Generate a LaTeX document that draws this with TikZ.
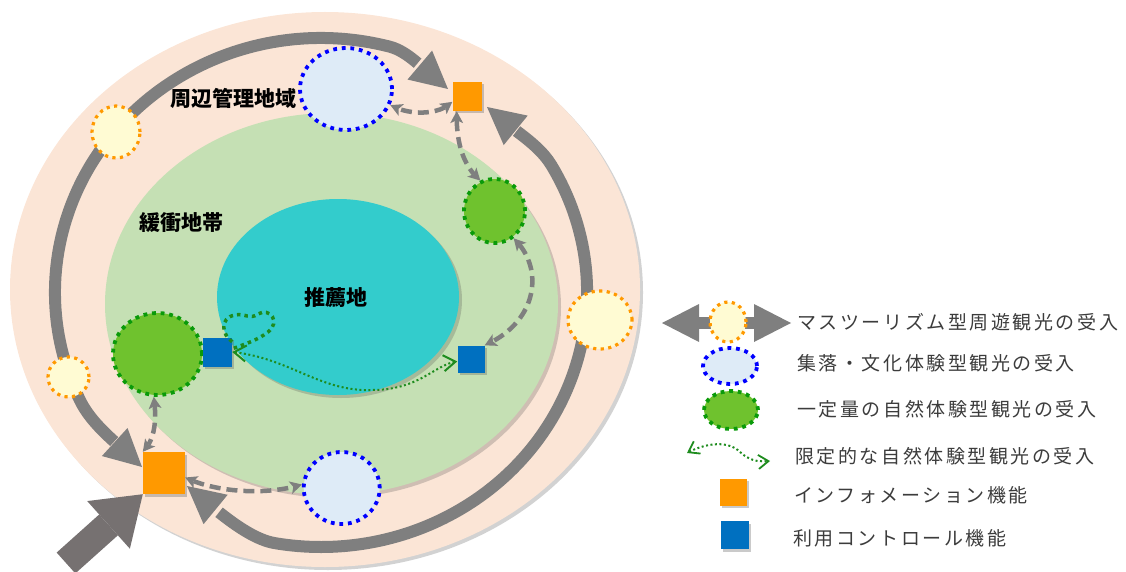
\documentclass[tikz,border=0pt]{standalone}
\usepackage{fontspec}
\newfontfamily\jpfont{Noto Sans CJK JP}
\newfontfamily\jplegend{Noto Sans CJK JP}[LetterSpace=13.5]
\usetikzlibrary{shapes.geometric,arrows.meta,shadows,bending}
\definecolor{peach}{HTML}{FBE5D6}
\definecolor{buffer}{HTML}{C5E0B4}
\definecolor{coreteal}{HTML}{33CCCC}
\definecolor{ringgray}{HTML}{7F7F7F}
\definecolor{biggray}{HTML}{767171}
\definecolor{infoorange}{HTML}{FF9900}
\definecolor{ctrlblue}{HTML}{0070C0}
\definecolor{villfill}{HTML}{DEEBF7}
\definecolor{villline}{HTML}{0000FF}
\definecolor{natfill}{HTML}{6FC22E}
\definecolor{natline}{HTML}{0A9A0A}
\definecolor{massfill}{HTML}{FFFBD3}
\definecolor{massline}{HTML}{FF9900}
\definecolor{limgreen}{HTML}{1E8C1E}
\definecolor{legtext}{HTML}{3C3C3C}
\begin{document}
\begin{tikzpicture}[x=1pt,y=-1pt,
  zoneshadow/.style={drop shadow={shadow xshift=3pt,shadow yshift=-3pt,opacity=0.25,fill=black!70}},
  zone/.style={ellipse,inner sep=0pt,zoneshadow},
  spot/.style={ellipse,inner sep=0pt,line width=3.8pt,dash pattern=on 3.8pt off 4.8pt},
  massspot/.style={spot,fill=massfill,draw=massline,line width=3.2pt,dash pattern=on 3.2pt off 4.4pt},
  villspot/.style={spot,fill=villfill,draw=villline},
  natspot/.style={spot,fill=natfill,draw=natline},
  boxshadow/.style={drop shadow={shadow xshift=2pt,shadow yshift=-2.5pt,opacity=0.35,fill=black!60}},
  infobox/.style={rectangle,inner sep=0pt,fill=infoorange,boxshadow},
  ctrlbox/.style={rectangle,inner sep=0pt,fill=ctrlblue,boxshadow},
  ringarrow/.style={draw=ringgray,line width=12pt,arrows={Triangle[length=37pt,width=38pt,line width=0pt]-Triangle[length=37pt,width=38pt,line width=0pt]}},
  bigarrow/.style={draw=biggray,line width=28pt,arrows={-Triangle[length=46pt,width=64pt,line width=0pt]}},
  dashlink/.style={draw=ringgray,line width=4.5pt,dash pattern=on 11pt off 6pt,arrows={Stealth[length=12pt,width=13pt,inset=3pt,line width=0pt]-Stealth[length=12pt,width=13pt,inset=3pt,line width=0pt]}},
  looppath/.style={draw=limgreen,line width=3.5pt,dash pattern=on 3.5pt off 4pt},
  limpath/.style={draw=limgreen,line width=2pt,dash pattern=on 2pt off 2.5pt,arrows={Straight Barb[length=12pt,width=16pt,line width=2pt]-Straight Barb[length=12pt,width=16pt,line width=2pt]}},
  zonelabel/.style={font={\jpfont\bfseries\fontsize{21pt}{21pt}\selectfont},text=black,inner sep=0pt},
  legtxt/.style={font={\jplegend\fontsize{19pt}{19pt}\selectfont},text=legtext,inner sep=0pt,anchor=west}
]
\useasboundingbox (0,0) rectangle (1126,572);

% zones
\node[zone,fill=peach,minimum width=630pt,minimum height=555pt] (outer) at (325,289.5) {};
\node[zone,fill=buffer,minimum width=453pt,minimum height=382pt] (buffer) at (331.5,304) {};
\node[zone,fill=coreteal,minimum width=242pt,minimum height=196pt] (core) at (338,297) {};

% ring arrows
\coordinate (tipTL) at (448,89);
\coordinate (tipBL) at (142,467);
\coordinate (tipTR) at (487,107);
\coordinate (tipBR) at (187,486);
\draw[ringarrow] (tipTL) .. controls (429.8,76.7) and (411.1,52.2) .. (389.8,46.7)
  arc[start angle=-75,end angle=-205,x radius=266,y radius=254.5]
  .. controls (93.0,427.1) and (120.8,445.8) .. (tipBL);
\draw[ringarrow] (tipTR) .. controls (506.8,126.8) and (536.9,141.3) .. (551.4,165.25)
  arc[start angle=-30,end angle=100,x radius=266,y radius=254.5]
  .. controls (245.2,538.1) and (210.6,504.6) .. (tipBR);

% spots
\node[massspot,minimum width=48pt,minimum height=52pt] (mass1) at (116,132) {};
\node[massspot,minimum width=41pt,minimum height=40pt] (mass2) at (68.5,377) {};
\node[massspot,minimum width=64pt,minimum height=58pt] (mass3) at (600,320) {};
\node[villspot,minimum width=92pt,minimum height=82pt] (villT) at (346,89) {};
\node[villspot,minimum width=76pt,minimum height=72pt] (villB) at (341.7,488) {};
\node[natspot,minimum width=61pt,minimum height=64pt] (natR) at (494.5,211) {};
\node[natspot,minimum width=89pt,minimum height=82pt] (natL) at (157.5,354) {};

% limited nature experience paths
\node[ctrlbox,minimum width=29pt,minimum height=29pt] (ctrlL) at (217.5,352) {};
\node[ctrlbox,minimum width=27pt,minimum height=27pt] (ctrlR) at (471,359) {};
\draw[looppath] (ctrlL.35) .. controls (222,335) and (219,318) .. (235,315)
  .. controls (245,313) and (250,320) .. (258,314)
  .. controls (270,307) and (281,322) .. (268,332)
  .. controls (258,340) and (245,344) .. (ctrlL.12);
\draw[limpath] (ctrlL.east) .. controls (290,358) and (320,392) .. (372,390)
  .. controls (420,390) and (435,364) .. (ctrlR.190);

% information squares
\node[infobox,minimum width=29pt,minimum height=29pt] (infoT) at (467,96.5) {};
\node[infobox,minimum width=42pt,minimum height=42pt] (infoB) at (164,473) {};

% dashed links
\draw[dashlink] (infoT.200) .. controls (440,115) and (410,116) .. (villT.-20);
\draw[dashlink] (infoT.235) .. controls (456,140) and (462,165) .. (natR.115);
\draw[dashlink] (natR.-55) .. controls (545,268) and (538,322) .. (ctrlR.45);
\draw[dashlink] (natL.265) .. controls (157,420) and (155,440) .. (infoB.north west);
\draw[dashlink] (infoB.-12) .. controls (215,492) and (265,496) .. (villB.175);

% entrance arrow
\coordinate (entry) at (66,563);
\draw[bigarrow] (entry) -- (infoB.south west);

% zone labels
\node[zonelabel] (lblOuter) at (233,98) {周辺管理地域};
\node[zonelabel] (lblBuffer) at (181,223) {緩衝地帯};
\node[zonelabel] (lblCore) at (336,298) {推薦地};

% legend
\coordinate (lgAL) at (662,323);
\coordinate (lgAR) at (791,323);
\draw[ringarrow] (lgAL) -- (lgAR);
\node[massspot,minimum width=36pt,minimum height=40pt] (lgMass) at (728,322) {};
\node[villspot,minimum width=54pt,minimum height=36pt] (lgVill) at (730,366) {};
\node[natspot,minimum width=54pt,minimum height=38pt] (lgNat) at (731,410) {};
\coordinate (lgLL) at (687,453);
\coordinate (lgLR) at (770,461);
\draw[limpath,arrows={Straight Barb[length=10pt,width=14pt,line width=1.8pt]-Straight Barb[length=10pt,width=14pt,line width=1.8pt]}] (lgLL) .. controls (705,443) and (728,440) .. (740,452) .. controls (750,461) and (758,462) .. (lgLR);
\node[infobox,minimum width=27pt,minimum height=27pt] (lgInfo) at (733,492) {};
\node[ctrlbox,minimum width=28pt,minimum height=28pt] (lgCtrl) at (735,535) {};

\node[legtxt] (tMass) at (797,322) {マスツーリズム型周遊観光の受入};
\node[legtxt] (tVill) at (797,363) {集落・文化体験型観光の受入};
\node[legtxt] (tNat) at (797,409) {一定量の自然体験型観光の受入};
\node[legtxt] (tLim) at (795,456) {限定的な自然体験型観光の受入};
\node[legtxt] (tInfo) at (794,495) {インフォメーション機能};
\node[legtxt] (tCtrl) at (793,538) {利用コントロール機能};
\end{tikzpicture}
\end{document}
